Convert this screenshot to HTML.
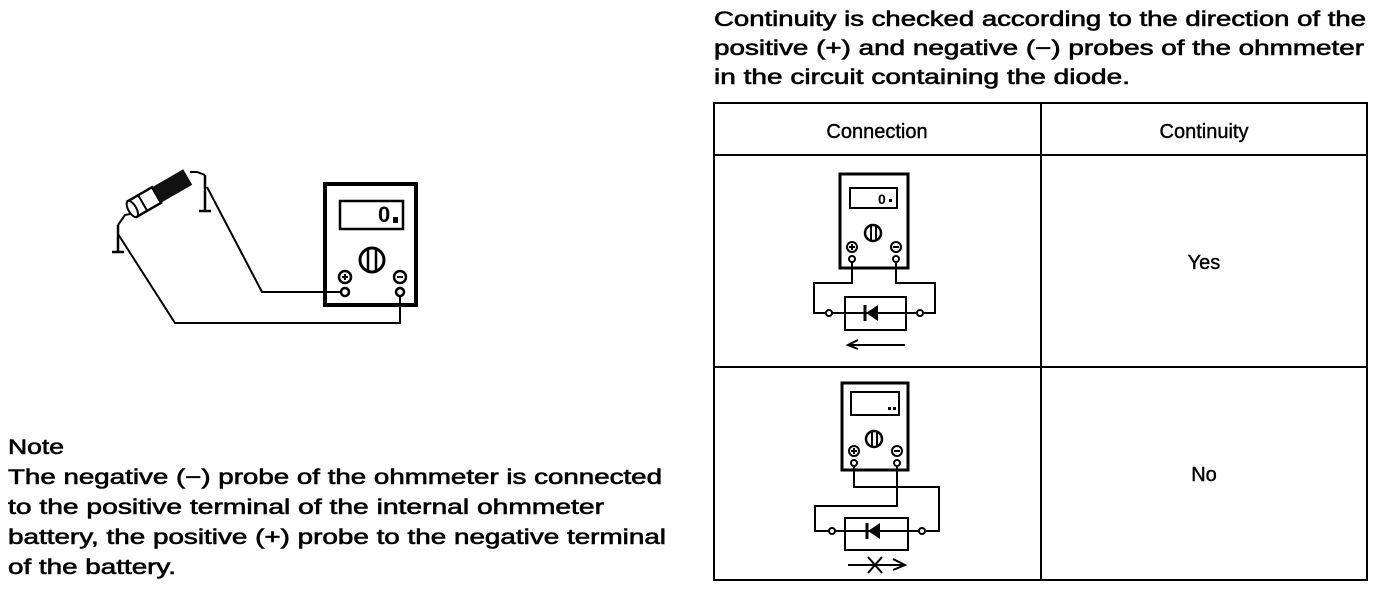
<!DOCTYPE html>
<html><head><meta charset="utf-8"><style>
html,body{margin:0;padding:0;background:#fff;}
svg{display:block;}
text{font-family:"Liberation Sans",sans-serif;fill:#000;}
</style></head><body>
<svg width="1376" height="590" viewBox="0 0 1376 590" xmlns="http://www.w3.org/2000/svg">
<g font-size="21" stroke="#000" stroke-width="0.6">
<text x="714" y="26" textLength="652" lengthAdjust="spacingAndGlyphs">Continuity is checked according to the direction of the</text>
<text x="714" y="55" textLength="650" lengthAdjust="spacingAndGlyphs">positive (+) and negative (−) probes of the ohmmeter</text>
<text x="714" y="84" textLength="416" lengthAdjust="spacingAndGlyphs">in the circuit containing the diode.</text>
<text x="8" y="454" textLength="56" lengthAdjust="spacingAndGlyphs">Note</text>
<text x="8" y="484" textLength="654" lengthAdjust="spacingAndGlyphs">The negative (−) probe of the ohmmeter is connected</text>
<text x="8" y="514" textLength="596" lengthAdjust="spacingAndGlyphs">to the positive terminal of the internal ohmmeter</text>
<text x="8" y="544" textLength="658" lengthAdjust="spacingAndGlyphs">battery, the positive (+) probe to the negative terminal</text>
<text x="8" y="574" textLength="168" lengthAdjust="spacingAndGlyphs">of the battery.</text>
</g>
<!-- table -->
<g fill="none" stroke="#000" stroke-width="2">
<rect x="714" y="103" width="653" height="477"/>
<line x1="714" y1="155" x2="1367" y2="155"/>
<line x1="714" y1="367" x2="1367" y2="367"/>
<line x1="1041" y1="103" x2="1041" y2="580"/>
</g>
<g font-size="20" text-anchor="middle" stroke="#000" stroke-width="0.4">
<text x="877" y="138">Connection</text>
<text x="1204" y="138">Continuity</text>
<text x="1204" y="269">Yes</text>
<text x="1204" y="481">No</text>
</g>

<!-- big meter -->
<g fill="none" stroke="#000" stroke-width="2.5">
<rect x="325" y="184" width="91" height="121" stroke-width="4"/>
<rect x="340" y="201" width="63" height="28"/>
<circle cx="372" cy="260" r="12" stroke-width="3"/>
<line x1="368" y1="250" x2="368" y2="270"/><line x1="376" y1="250" x2="376" y2="270"/>
<circle cx="345" cy="277" r="6"/><circle cx="400" cy="277" r="6"/>
<circle cx="345" cy="292" r="4"/><circle cx="400" cy="292" r="4"/>
<polyline points="341,292 262,292 207,187" stroke-width="2"/>
<polyline points="400,296 400,323 175,323 118,234" stroke-width="2"/>
<line x1="118" y1="225" x2="118" y2="252"/><line x1="112" y1="252" x2="124" y2="252"/>
<line x1="205" y1="175" x2="205" y2="210"/><line x1="199" y1="211" x2="211" y2="211"/>
<polyline points="118,225 125,215 135,213" stroke-width="2"/>
<polyline points="190,172 197,172 205,175" stroke-width="2"/>
</g>
<text x="378" y="222" font-size="22" font-weight="bold">0</text>
<rect x="393" y="217" width="5" height="6" fill="#000"/>
<line x1="342" y1="277" x2="348" y2="277" stroke="#000" stroke-width="2"/><line x1="345" y1="274" x2="345" y2="280" stroke="#000" stroke-width="2"/>
<line x1="397" y1="277" x2="403" y2="277" stroke="#000" stroke-width="2"/>
<!-- bulb -->
<g transform="translate(160,193) rotate(-30)">
<rect x="-32" y="-9" width="28" height="18" fill="#fff" stroke="#000" stroke-width="2.5"/>
<ellipse cx="-32" cy="0" rx="4" ry="9" fill="#fff" stroke="#000" stroke-width="2"/>
<rect x="-4" y="-9" width="36" height="18" fill="#111"/>
<line x1="-20" y1="-9" x2="-20" y2="9" stroke="#000" stroke-width="2"/>
</g>

<!-- small meter 1 -->
<g fill="none" stroke="#000" stroke-width="2">
<rect x="840" y="174" width="68" height="94" stroke-width="3"/>
<rect x="850" y="188" width="47" height="20"/>
<circle cx="873" cy="233" r="8" stroke-width="2.5"/>
<line x1="871" y1="226" x2="871" y2="240"/><line x1="876" y1="226" x2="876" y2="240"/>
<circle cx="852" cy="247" r="5"/><circle cx="896" cy="247" r="5"/>
<circle cx="852" cy="259" r="3"/><circle cx="896" cy="259" r="3"/>
<polyline points="852,262 852,283 814,283 814,313 826,313"/>
<polyline points="896,262 896,283 935,283 935,313 923,313"/>
<rect x="845" y="297" width="61" height="33"/>
<line x1="832" y1="313" x2="917" y2="313"/>
<circle cx="829" cy="313" r="3"/><circle cx="920" cy="313" r="3"/>
<line x1="850" y1="345" x2="905" y2="345"/>
<polyline points="858,340 848,345 858,349"/>
</g>
<polygon points="866,313 878,305 878,321" fill="#000"/><line x1="865" y1="305" x2="865" y2="321" stroke="#000" stroke-width="3"/>
<text x="878" y="204" font-size="14" font-weight="bold">0</text><rect x="889" y="199" width="3" height="3" fill="#000"/>
<line x1="849" y1="247" x2="855" y2="247" stroke="#000" stroke-width="2"/><line x1="852" y1="244" x2="852" y2="250" stroke="#000" stroke-width="2"/>
<line x1="893" y1="247" x2="899" y2="247" stroke="#000" stroke-width="2"/>

<!-- small meter 2 -->
<g fill="none" stroke="#000" stroke-width="2">
<rect x="842" y="383" width="66" height="87" stroke-width="3"/>
<rect x="851" y="392" width="48" height="23"/>
<circle cx="874" cy="439" r="8" stroke-width="2.5"/>
<line x1="872" y1="432" x2="872" y2="446"/><line x1="877" y1="432" x2="877" y2="446"/>
<circle cx="854" cy="451" r="5"/><circle cx="897" cy="451" r="5"/>
<circle cx="854" cy="463" r="3"/><circle cx="897" cy="463" r="3"/>
<polyline points="854,466 854,487 939,487 939,531 926,531"/>
<polyline points="897,466 897,506 815,506 815,531 829,531"/>
<rect x="845" y="518" width="63" height="32"/>
<line x1="835" y1="531" x2="919" y2="531"/>
<circle cx="832" cy="531" r="3"/><circle cx="922" cy="531" r="3"/>
<line x1="848" y1="565" x2="905" y2="565"/>
<polyline points="893,559 905,565 893,570"/>
<line x1="868" y1="557" x2="882" y2="573"/><line x1="882" y1="557" x2="868" y2="573"/>
</g>
<polygon points="868,531 880,523 880,539" fill="#000"/><line x1="867" y1="523" x2="867" y2="539" stroke="#000" stroke-width="3"/>
<rect x="888" y="407" width="3" height="3" fill="#000"/><rect x="893" y="407" width="3" height="3" fill="#000"/>
<line x1="851" y1="451" x2="857" y2="451" stroke="#000" stroke-width="2"/><line x1="854" y1="448" x2="854" y2="454" stroke="#000" stroke-width="2"/>
<line x1="894" y1="451" x2="900" y2="451" stroke="#000" stroke-width="2"/>
</svg>
</body></html>
